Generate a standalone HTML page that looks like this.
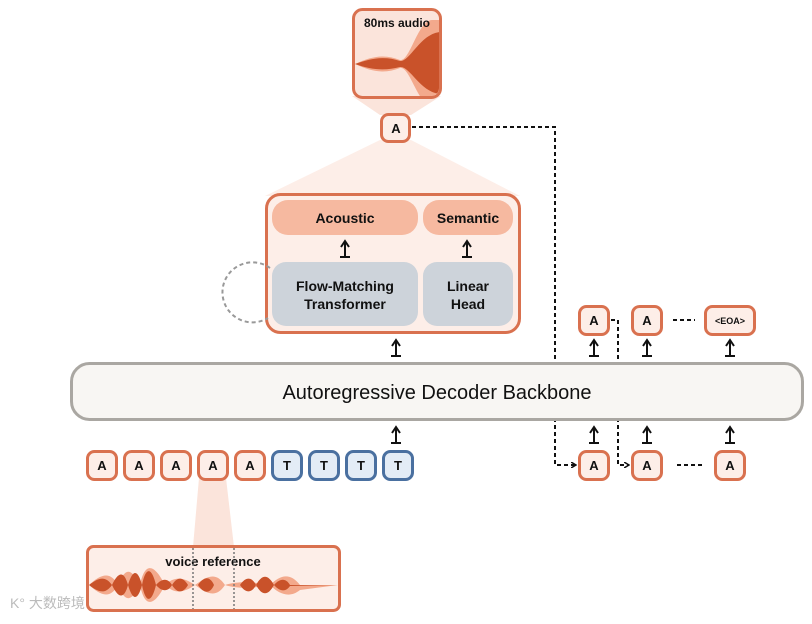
<!DOCTYPE html>
<html><head><style>
body{margin:0;background:#fff;}
svg text{font-family:"Liberation Sans",Arial,sans-serif;}
</style></head><body>
<svg width="812" height="619" viewBox="0 0 812 619" xmlns="http://www.w3.org/2000/svg">
<defs>
<marker id="ah" markerWidth="6" markerHeight="6" refX="5" refY="3" orient="auto" markerUnits="userSpaceOnUse"><path d="M0,0 L5,3 L0,6" fill="none" stroke="#111" stroke-width="1.5"/></marker>
<clipPath id="cpa"><rect x="355" y="11" width="84" height="85" rx="8"/></clipPath>
<clipPath id="cpv"><rect x="89" y="548" width="249" height="61" rx="5"/></clipPath>
</defs>
<!-- fans -->
<polygon points="352,96 441,96 411,115 380,115" fill="#fbe4db"/>
<polygon points="380,140 411,140 520,196 265,196" fill="#fdeee8"/>
<polygon points="199,478 226,478 234,547 193,547" fill="#fbe4db"/>
<!-- audio box -->
<rect x="353.5" y="9.5" width="87" height="88" rx="9" fill="#fbe4db"/>
<g clip-path="url(#cpa)">
<path d="M355,64 C372,56 385,54 400,60 C410,62 418,20 432,20 L440,20 L440,106 L432,106 C418,106 410,66 400,68 C385,74 372,72 355,64Z" fill="#f3a98c"/>
<path d="M355,64 C372,58 385,56 400,61 C410,62 420,34 440,32 L440,94 C420,92 410,66 400,67 C385,71 372,70 355,64Z" fill="#c9522a"/>
</g>
<rect x="353.5" y="9.5" width="87" height="88" rx="9" fill="none" stroke="#d9714f" stroke-width="3"/>
<text x="397" y="27" font-size="12" text-anchor="middle" font-weight="bold" fill="#111">80ms audio</text>
<!-- top A -->
<rect x="381.5" y="114.5" width="28" height="27" rx="7" fill="#fdeee8" stroke="#d9714f" stroke-width="3"/>
<text x="396" y="133" font-size="13" font-weight="bold" text-anchor="middle" fill="#111">A</text>
<!-- dashed connectors -->
<path d="M412,127 H555 V465 H576" fill="none" stroke="#111" stroke-width="2" stroke-dasharray="4,3" marker-end="url(#ah)"/>
<path d="M611,320 H618 V465 H629" fill="none" stroke="#111" stroke-width="2" stroke-dasharray="4,3" marker-end="url(#ah)"/>
<path d="M673,320 H695" stroke="#111" stroke-width="2" stroke-dasharray="4,3"/>
<path d="M677,465 H705" stroke="#111" stroke-width="2" stroke-dasharray="4,3"/>
<!-- big box -->
<rect x="266.5" y="194.5" width="253" height="138" rx="14" fill="#fdeee8" stroke="#d9714f" stroke-width="3"/>
<rect x="272" y="200" width="146" height="35" rx="16" fill="#f6b9a0"/>
<rect x="423" y="200" width="90" height="35" rx="16" fill="#f6b9a0"/>
<g font-size="14" font-weight="bold" text-anchor="middle" fill="#111">
<text x="345" y="223">Acoustic</text>
<text x="468" y="223">Semantic</text>
</g>
<rect x="272" y="262" width="146" height="64" rx="14" fill="#cdd3da"/>
<rect x="423" y="262" width="90" height="64" rx="14" fill="#cdd3da"/>
<g font-size="14" font-weight="bold" text-anchor="middle" fill="#111">
<text x="345" y="291">Flow-Matching</text>
<text x="345" y="309">Transformer</text>
<text x="468" y="291">Linear</text>
<text x="468" y="309">Head</text>
</g>
<path d="M270,268 A30,30 0 1 0 268,318" fill="none" stroke="#999" stroke-width="2" stroke-dasharray="4,3"/>
<!-- up arrows -->
<g stroke="#111" stroke-width="2" fill="none">
<path d="M340,257 H350 M345,257 V242 M341,247 L345,241 L349,247"/>
<path d="M462,257 H472 M467,257 V242 M463,247 L467,241 L471,247"/>
<path d="M391,356 H401 M396,356 V341 M392,346 L396,340 L400,346"/>
<path d="M589,356 H599 M594,356 V341 M590,346 L594,340 L598,346"/>
<path d="M642,356 H652 M647,356 V341 M643,346 L647,340 L651,346"/>
<path d="M725,356 H735 M730,356 V341 M726,346 L730,340 L734,346"/>
<path d="M391,443 H401 M396,443 V428 M392,433 L396,427 L400,433"/>
<path d="M589,443 H599 M594,443 V428 M590,433 L594,427 L598,433"/>
<path d="M642,443 H652 M647,443 V428 M643,433 L647,427 L651,433"/>
<path d="M725,443 H735 M730,443 V428 M726,433 L730,427 L734,433"/>
</g>
<!-- backbone -->
<rect x="71.5" y="363.5" width="731" height="56" rx="18" fill="#f8f6f3" stroke="#aaa7a2" stroke-width="3"/>
<text x="437" y="399" font-size="20" text-anchor="middle" fill="#111">Autoregressive Decoder Backbone</text>
<!-- right tokens -->
<g fill="#fdeee8" stroke="#d9714f" stroke-width="3">
<rect x="579.5" y="306.5" width="29" height="28" rx="7"/>
<rect x="632.5" y="306.5" width="29" height="28" rx="7"/>
<rect x="705.5" y="306.5" width="49" height="28" rx="7"/>
<rect x="579.5" y="451.5" width="29" height="28" rx="7"/>
<rect x="632.5" y="451.5" width="29" height="28" rx="7"/>
<rect x="715.5" y="451.5" width="29" height="28" rx="7"/>
</g>
<g font-size="13" font-weight="bold" text-anchor="middle" fill="#111">
<text x="594" y="325">A</text><text x="647" y="325">A</text>
<text x="730" y="324" font-size="9">&lt;EOA&gt;</text>
<text x="594" y="470">A</text><text x="647" y="470">A</text><text x="730" y="470">A</text>
</g>
<!-- bottom token row -->
<g stroke-width="3">
<rect x="87.5" y="451.5" width="29" height="28" rx="7" fill="#fdeee8" stroke="#d9714f"/>
<rect x="124.5" y="451.5" width="29" height="28" rx="7" fill="#fdeee8" stroke="#d9714f"/>
<rect x="161.5" y="451.5" width="29" height="28" rx="7" fill="#fdeee8" stroke="#d9714f"/>
<rect x="198.5" y="451.5" width="29" height="28" rx="7" fill="#fdeee8" stroke="#d9714f"/>
<rect x="235.5" y="451.5" width="29" height="28" rx="7" fill="#fdeee8" stroke="#d9714f"/>
<rect x="272.5" y="451.5" width="29" height="28" rx="7" fill="#e3ecf6" stroke="#4a70a0"/>
<rect x="309.5" y="451.5" width="29" height="28" rx="7" fill="#e3ecf6" stroke="#4a70a0"/>
<rect x="346.5" y="451.5" width="29" height="28" rx="7" fill="#e3ecf6" stroke="#4a70a0"/>
<rect x="383.5" y="451.5" width="29" height="28" rx="7" fill="#e3ecf6" stroke="#4a70a0"/>
</g>
<g font-size="13" font-weight="bold" text-anchor="middle" fill="#111">
<text x="102" y="470">A</text><text x="139" y="470">A</text><text x="176" y="470">A</text><text x="213" y="470">A</text><text x="250" y="470">A</text>
<text x="287" y="470">T</text><text x="324" y="470">T</text><text x="361" y="470">T</text><text x="398" y="470">T</text>
</g>
<!-- voice reference -->
<rect x="87.5" y="546.5" width="252" height="64" rx="6" fill="#fdeee8"/>
<g clip-path="url(#cpv)">
<path d="M89,585 C100,575 110,570 118,585 C124,570 130,565 140,585 C145,560 155,565 165,585 C175,575 185,578 195,585 C205,578 215,570 225,585 C240,580 260,583 270,585 C280,575 290,572 300,585 L338,585 L300,590 C290,598 280,595 270,585 C260,587 240,590 225,585 C215,600 205,592 195,585 C185,592 175,595 165,585 C155,605 145,610 140,585 C130,605 124,600 118,585 C110,600 100,595 89,585Z" fill="#f3a98c"/>
<path d="M89,585 C98,578 105,575 112,585 C118,572 124,570 128,585 C133,568 138,570 142,585 C146,565 152,568 156,585 C162,578 168,578 172,585 C178,575 184,578 188,585 L198,585 C204,576 210,576 214,585 L240,585 C246,576 252,577 256,585 C262,574 268,574 274,585 C280,578 286,578 290,585 L336,585 L290,586 C286,592 280,592 274,585 C268,596 262,596 256,585 C252,593 246,594 240,585 L214,585 C210,594 204,594 198,585 L188,585 C184,592 178,595 172,585 C168,592 162,592 156,585 C152,602 146,605 142,585 C138,600 133,602 128,585 C124,600 118,598 112,585 C105,595 98,592 89,585Z" fill="#c9522a"/>
</g>
<rect x="87.5" y="546.5" width="252" height="64" rx="6" fill="none" stroke="#d9714f" stroke-width="3"/>
<text x="213" y="566" font-size="13" font-weight="bold" text-anchor="middle" fill="#111">voice reference</text>
<path d="M193,548 V609 M234,548 V609" stroke="#777" stroke-width="1.5" stroke-dasharray="2,2"/>
<text x="10" y="608" font-size="14" fill="#bbb" font-family="'Liberation Sans','Noto Sans CJK SC',sans-serif">K° 大数跨境</text>
</svg>
</body></html>
